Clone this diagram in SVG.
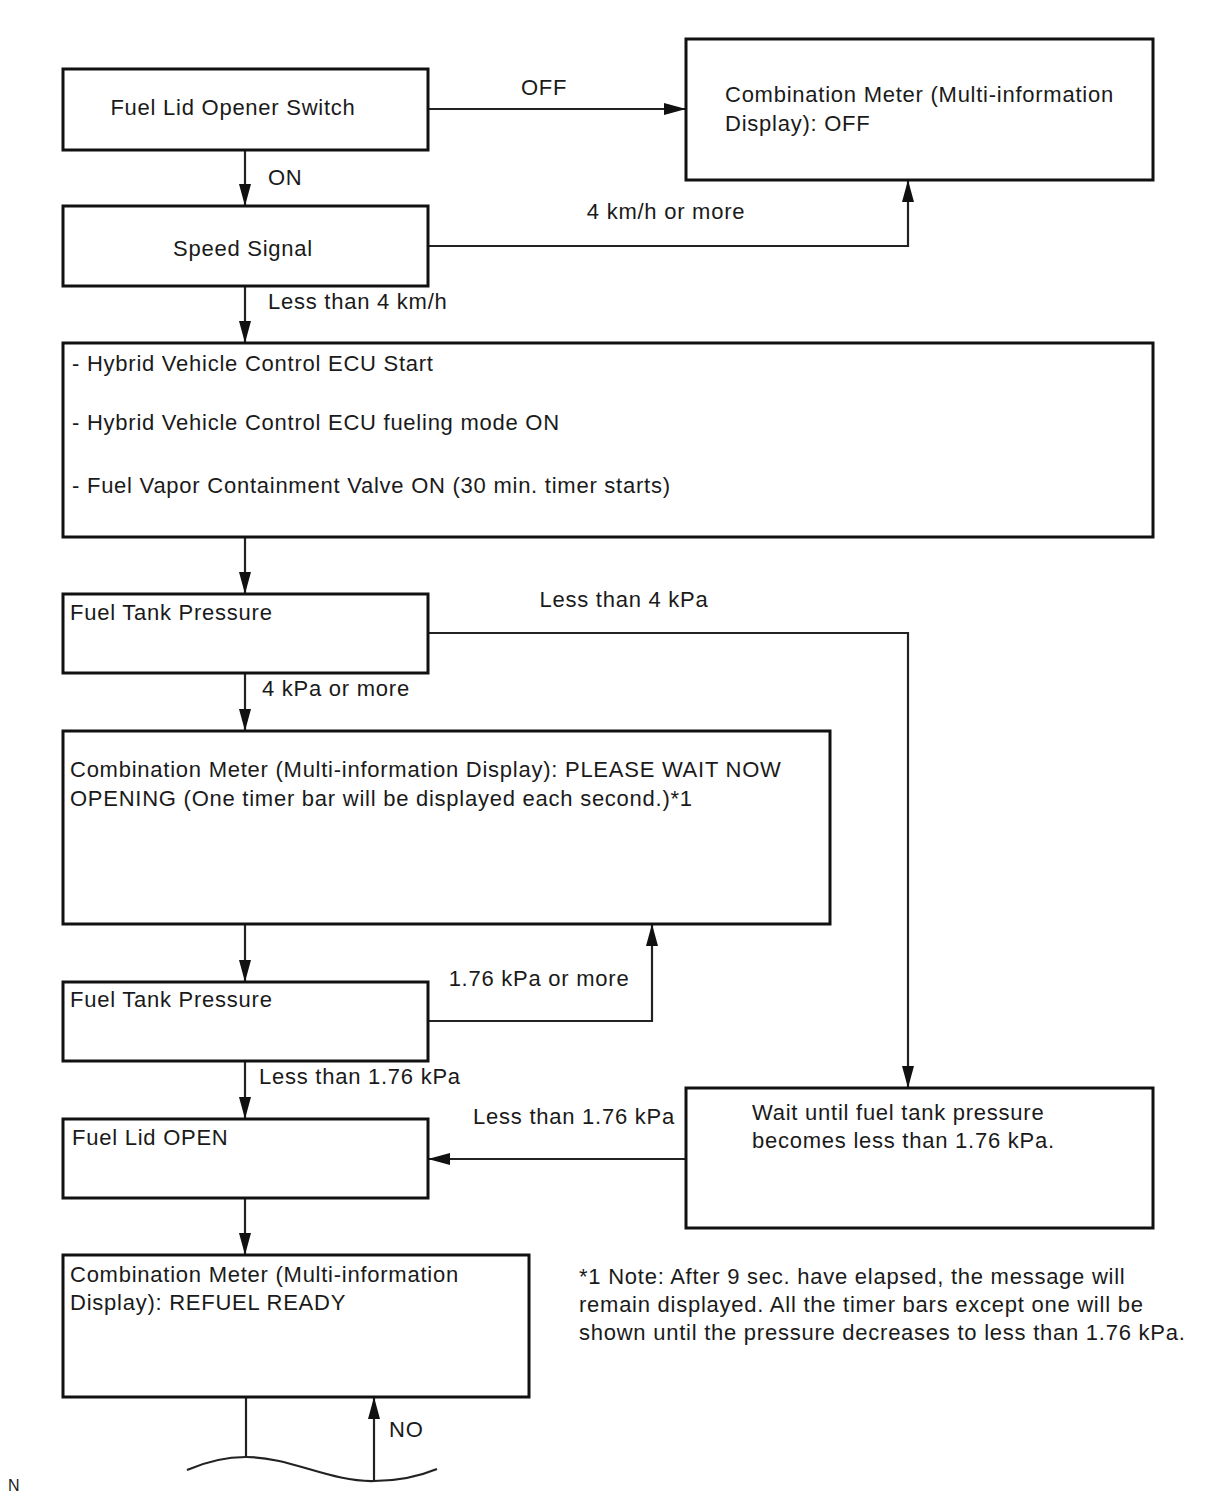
<svg xmlns="http://www.w3.org/2000/svg" width="1210" height="1498" viewBox="0 0 1210 1498">
<style>
.box{fill:#fff;stroke:#111;stroke-width:3}
.ln{fill:none;stroke:#222;stroke-width:2.2}
text{font-family:"Liberation Sans",Arial,sans-serif;font-size:22px;letter-spacing:0.75px;fill:#1a1a1a}
.c{text-anchor:middle}
</style>
<defs>
<marker id="ah" viewBox="0 0 22 12" refX="22" refY="6" markerWidth="22" markerHeight="12" markerUnits="userSpaceOnUse" orient="auto">
<path d="M0,0 L22,6 L0,12 Z" fill="#111"/>
</marker>
</defs>
<rect width="1210" height="1498" fill="#fff"/>
<g id="connectors">
<path class="ln" d="M428,109 H686" marker-end="url(#ah)"/>
<text x="544" y="95" class="c">OFF</text>
<path class="ln" d="M245,150 V206" marker-end="url(#ah)"/>
<text x="268" y="185">ON</text>
<path class="ln" d="M428,246 H908 V180" marker-end="url(#ah)"/>
<text x="666" y="219" class="c">4 km/h or more</text>
<path class="ln" d="M245,286 V343" marker-end="url(#ah)"/>
<text x="268" y="309">Less than 4 km/h</text>
<path class="ln" d="M245,537 V594" marker-end="url(#ah)"/>
<path class="ln" d="M428,633 H908 V1088" marker-end="url(#ah)"/>
<text x="624" y="607" class="c">Less than 4 kPa</text>
<path class="ln" d="M245,673 V731" marker-end="url(#ah)"/>
<text x="262" y="696">4 kPa or more</text>
<path class="ln" d="M245,924 V982" marker-end="url(#ah)"/>
<path class="ln" d="M428,1021 H652 V924" marker-end="url(#ah)"/>
<text x="539" y="986" class="c">1.76 kPa or more</text>
<path class="ln" d="M245,1061 V1119" marker-end="url(#ah)"/>
<text x="259" y="1084">Less than 1.76 kPa</text>
<path class="ln" d="M686,1159 H428" marker-end="url(#ah)"/>
<text x="574" y="1124" class="c">Less than 1.76 kPa</text>
<path class="ln" d="M245,1198 V1255" marker-end="url(#ah)"/>
<path class="ln" d="M246,1397 V1457"/>
<path class="ln" d="M374,1480 V1397" marker-end="url(#ah)"/>
<text x="389" y="1437">NO</text>
<path class="ln" d="M187,1470 C210,1460 230,1457 246,1457 C290,1457 330,1482 374,1481 C400,1481 420,1476 437,1469"/>
</g>
<g id="n1"><rect class="box" x="63" y="69" width="365" height="81"/><text x="233" y="115" class="c">Fuel Lid Opener Switch</text></g>
<g id="n2"><rect class="box" x="686" y="39" width="467" height="141"/><text x="725" y="102">Combination Meter (Multi-information</text><text x="725" y="131">Display): OFF</text></g>
<g id="n3"><rect class="box" x="63" y="206" width="365" height="80"/><text x="243" y="256" class="c">Speed Signal</text></g>
<g id="n4"><rect class="box" x="63" y="343" width="1090" height="194"/><text x="72" y="371">- Hybrid Vehicle Control ECU Start</text><text x="72" y="430">- Hybrid Vehicle Control ECU fueling mode ON</text><text x="72" y="493">- Fuel Vapor Containment Valve ON (30 min. timer starts)</text></g>
<g id="n5"><rect class="box" x="63" y="594" width="365" height="79"/><text x="70" y="620">Fuel Tank Pressure</text></g>
<g id="n6"><rect class="box" x="63" y="731" width="767" height="193"/><text x="70" y="777">Combination Meter (Multi-information Display): PLEASE WAIT NOW</text><text x="70" y="806">OPENING (One timer bar will be displayed each second.)*1</text></g>
<g id="n7"><rect class="box" x="63" y="982" width="365" height="79"/><text x="70" y="1007">Fuel Tank Pressure</text></g>
<g id="n8"><rect class="box" x="63" y="1119" width="365" height="79"/><text x="72" y="1145">Fuel Lid OPEN</text></g>
<g id="n9"><rect class="box" x="686" y="1088" width="467" height="140"/><text x="752" y="1120">Wait until fuel tank pressure</text><text x="752" y="1148">becomes less than 1.76 kPa.</text></g>
<g id="n10"><rect class="box" x="63" y="1255" width="466" height="142"/><text x="70" y="1282">Combination Meter (Multi-information</text><text x="70" y="1310">Display): REFUEL READY</text></g>
<g id="note"><text x="579" y="1284">*1 Note: After 9 sec. have elapsed, the message will</text><text x="579" y="1312">remain displayed. All the timer bars except one will be</text><text x="579" y="1340">shown until the pressure decreases to less than 1.76 kPa.</text></g>
<text x="8" y="1491" style="font-size:16px;letter-spacing:0">N</text>
</svg>
